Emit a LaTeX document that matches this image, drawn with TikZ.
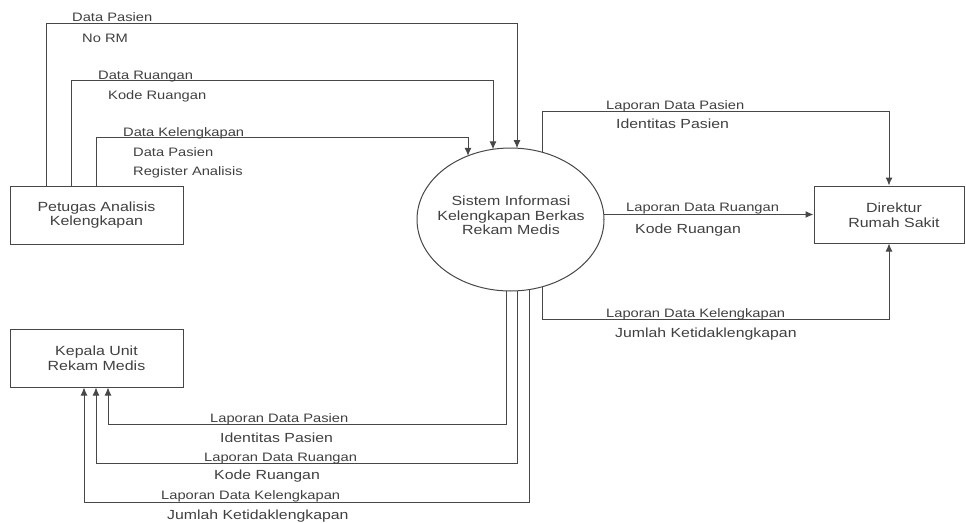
\documentclass[tikz,border=0pt]{standalone}
\usepackage{fontspec}
\setmainfont{Liberation Sans}[FakeStretch=1.2]
\usetikzlibrary{shapes.geometric,arrows.meta,calc}
\newcommand\fnode{\fontsize{13.3}{14.5}\selectfont}
\newcommand\flab{\fontsize{12.25}{14}\selectfont}
\newcommand\fsec{\fontsize{13.2}{15}\selectfont}
\begin{document}
\begin{tikzpicture}[x=1pt,y=-1pt,
  ent/.style={draw=black!72, line width=1pt, rectangle, inner sep=0pt, align=center, text=black!75, font=\fnode},
  proc/.style={draw=black!72, line width=1pt, ellipse, inner sep=0pt, minimum width=187pt, minimum height=143pt},
  ptxt/.style={inner sep=0pt, align=center, text=black!75, font=\fnode},
  ln/.style={draw=black!72, line width=1pt},
  arr/.style={ln, -{Latex[length=8pt,width=7pt]}},
  lab/.style={inner sep=0pt, anchor=base west, text=black!75, font=\flab},
  sec/.style={inner sep=0pt, anchor=base west, text=black!75, font=\fsec}
]
\useasboundingbox (0,0) rectangle (966,522);

% entities
\node[ent, minimum width=173pt, minimum height=58pt] (pet) at (96.5,215) {Petugas Analisis\\Kelengkapan};
\node[ent, minimum width=173pt, minimum height=58pt] (kep) at (96.5,358) {Kepala Unit\\Rekam Medis};
\node[ent, minimum width=150pt, minimum height=57pt] (dir) at (889,214.5) {};
\node[ptxt] (dirt) at (894,215) {Direktur\\Rumah Sakit};
\node[proc] (ell) at (510.5,219.5) {};
\node[ptxt] (ellt) at (511,215.5) {Sistem Informasi\\Kelengkapan Berkas\\Rekam Medis};

% inputs from Petugas
\draw[arr] (pet.north -| 46,0) |- (517,23) -- ($(ell.center)+(6.5,-71.3)$);
\draw[arr] (pet.north -| 71,0) |- (493,80) -- ($(ell.center)+(-17.5,-70.2)$);
\draw[arr] (pet.north -| 96,0) |- (468,137) -- ($(ell.center)+(-42.5,-63.7)$);

% outputs to Direktur
\draw[arr] ($(ell.center)+(31.5,-67.3)$) -- (542,111) -| (dir.north);
\draw[arr] ($(ell.center)+(93.3,-5)$) -- (dir.west);
\draw[arr] ($(ell.center)+(31.5,67.3)$) -- (542,319) -| (dir.south);

% outputs to Kepala
\draw[arr] ($(ell.center)+(-4.5,71.4)$) |- (108,424) -- (kep.south -| 108,0);
\draw[arr] ($(ell.center)+(6.5,71.3)$) |- (96,463) -- (kep.south -| 96,0);
\draw[arr] ($(ell.center)+(18.5,70.1)$) |- (84,502) -- (kep.south -| 84,0);

% labels top-left
\node[lab] (t1) at (72,21) {Data Pasien};
\node[lab] (t1b) at (82,42) {No RM};
\node[lab] (t2) at (98,79) {Data Ruangan};
\node[lab] (t2b) at (108,99.4) {Kode Ruangan};
\node[lab] (t3) at (123,136) {Data Kelengkapan};
\node[lab] (t3b) at (133,156.4) {Data Pasien};
\node[lab] (t3c) at (133,175.4) {Register Analisis};

% labels right
\node[lab] (r1) at (606,109.5) {Laporan Data Pasien};
\node[sec] (r1b) at (616,128.7) {Identitas Pasien};
\node[lab] (r2) at (626,211.5) {Laporan Data Ruangan};
\node[sec] (r2b) at (635,233.7) {Kode Ruangan};
\node[lab] (r3) at (606,317) {Laporan Data Kelengkapan};
\node[sec] (r3b) at (615,337.7) {Jumlah Ketidaklengkapan};

% labels bottom
\node[lab] (b1) at (210,422.4) {Laporan Data Pasien};
\node[sec] (b1b) at (220,442.4) {Identitas Pasien};
\node[lab] (b2) at (204,461) {Laporan Data Ruangan};
\node[sec] (b2b) at (214,479) {Kode Ruangan};
\node[lab] (b3) at (161,499.4) {Laporan Data Kelengkapan};
\node[sec] (b3b) at (167,519) {Jumlah Ketidaklengkapan};
\end{tikzpicture}
\end{document}
